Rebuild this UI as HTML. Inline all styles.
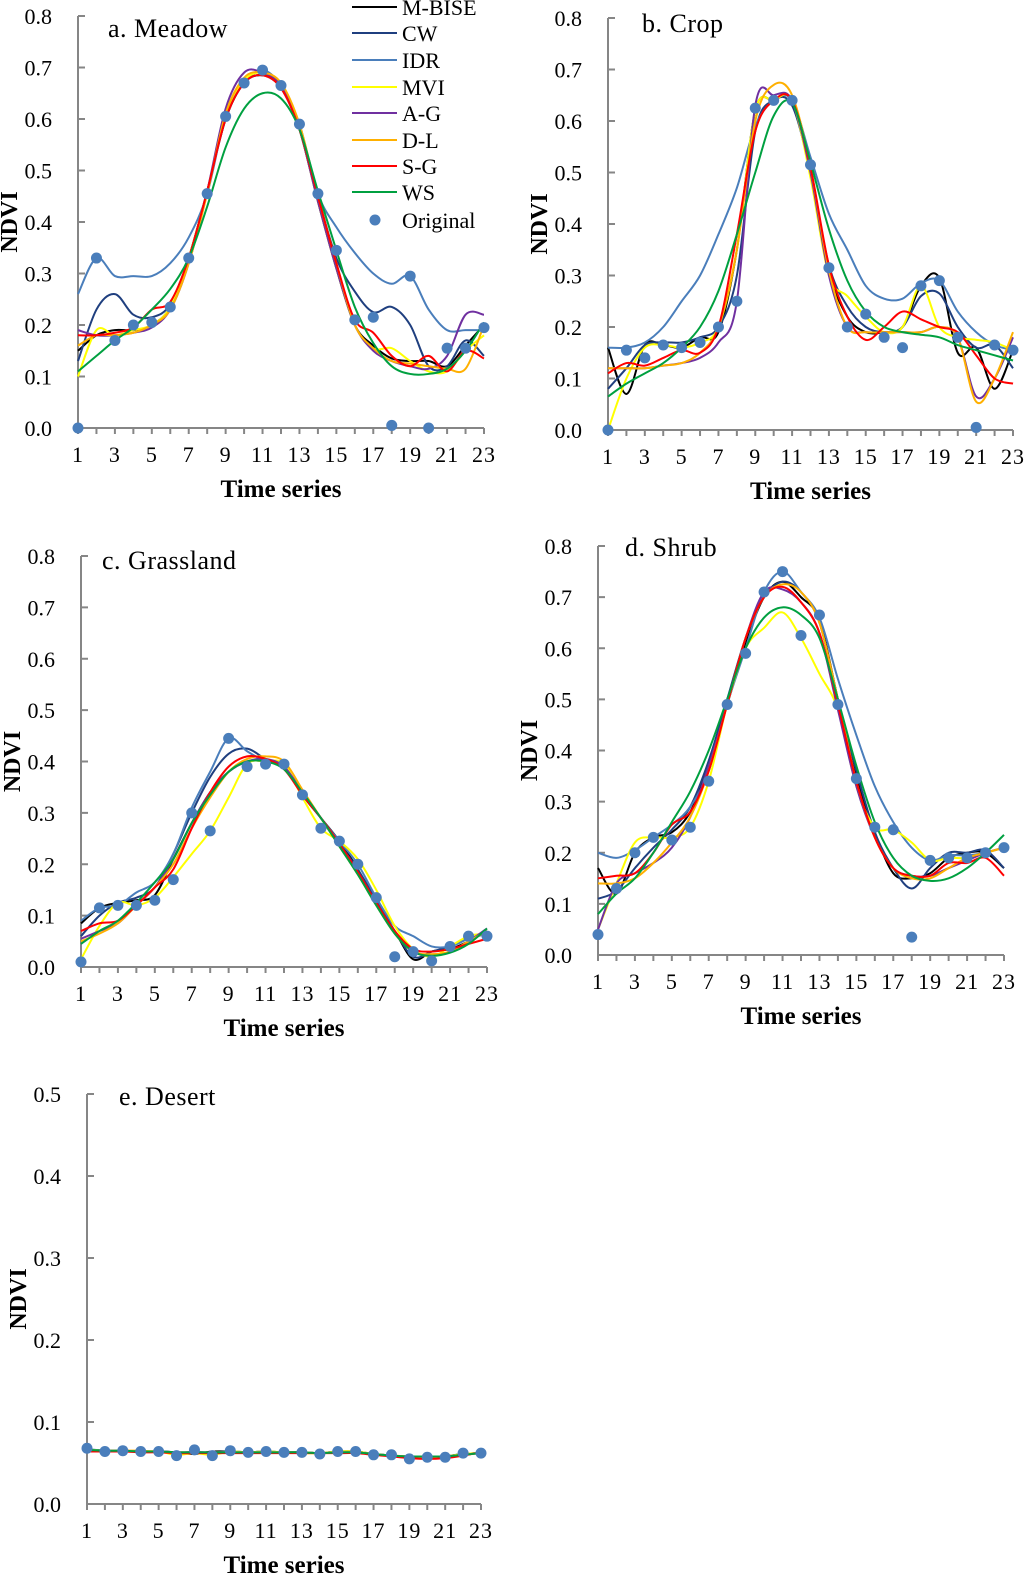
<!DOCTYPE html>
<html><head><meta charset="utf-8">
<style>
html,body{margin:0;padding:0;background:#fff;}
svg{display:block;font-family:"Liberation Serif",serif;}
</style></head>
<body>
<svg id="fig" width="1024" height="1578" viewBox="0 0 1024 1578"></svg>
<script>
const seriesNames = ["M-BISE","CW","IDR","MVI","A-G","D-L","S-G","WS"];
const seriesColors = ["#000000","#1f3f7f","#4a7ebb","#ffff00","#7030a0","#ffb000","#ff0000","#00a040"];
const timeSteps = [1,2,3,4,5,6,7,8,9,10,11,12,13,14,15,16,17,18,19,20,21,22,23];
const xTickLabels = [1,3,5,7,9,11,13,15,17,19,21,23];

// a. Meadow
const meadowOriginal = [0.0,0.33,0.17,0.20,0.205,0.235,0.33,0.455,0.605,0.67,0.695,0.665,0.59,0.455,0.345,0.21,0.215,0.005,0.295,0.0,0.155,0.155,0.195];
const meadowMBISE = [0.15,0.18,0.19,0.19,0.20,0.235,0.33,0.46,0.60,0.67,0.685,0.665,0.58,0.44,0.31,0.20,0.16,0.135,0.13,0.13,0.12,0.16,0.20];
const meadowCW = [0.13,0.23,0.26,0.22,0.215,0.24,0.33,0.46,0.60,0.67,0.685,0.66,0.58,0.45,0.33,0.265,0.225,0.235,0.20,0.12,0.12,0.17,0.14];
const meadowIDR = [0.26,0.33,0.295,0.295,0.295,0.32,0.37,0.455,0.605,0.67,0.695,0.665,0.59,0.455,0.39,0.34,0.30,0.28,0.295,0.23,0.19,0.19,0.19];
const meadowMVI = [0.10,0.19,0.18,0.19,0.20,0.235,0.33,0.46,0.61,0.675,0.69,0.665,0.58,0.44,0.31,0.20,0.155,0.155,0.13,0.11,0.11,0.15,0.18];
const meadowAG = [0.19,0.18,0.18,0.185,0.195,0.23,0.32,0.46,0.62,0.69,0.69,0.665,0.58,0.44,0.31,0.20,0.15,0.13,0.12,0.115,0.14,0.22,0.22];
const meadowDL = [0.16,0.18,0.18,0.185,0.20,0.23,0.32,0.455,0.61,0.68,0.69,0.67,0.59,0.45,0.32,0.20,0.155,0.13,0.125,0.12,0.115,0.115,0.20];
const meadowSG = [0.18,0.18,0.185,0.195,0.23,0.245,0.33,0.46,0.60,0.67,0.685,0.66,0.58,0.45,0.32,0.21,0.185,0.14,0.12,0.14,0.11,0.15,0.135];
const meadowWS = [0.11,0.14,0.17,0.195,0.23,0.27,0.33,0.43,0.545,0.62,0.65,0.64,0.58,0.46,0.345,0.235,0.165,0.12,0.105,0.105,0.115,0.15,0.205];

// b. Crop
const cropOriginal = [0.0,0.155,0.14,0.165,0.16,0.17,0.20,0.25,0.625,0.64,0.64,0.515,0.315,0.20,0.225,0.18,0.16,0.28,0.29,0.18,0.005,0.165,0.155];
const cropMBISE = [0.16,0.07,0.165,0.165,0.16,0.18,0.19,0.35,0.62,0.64,0.64,0.50,0.31,0.22,0.19,0.19,0.20,0.28,0.295,0.15,0.16,0.08,0.155];
const cropCW = [0.08,0.12,0.165,0.17,0.17,0.18,0.20,0.30,0.58,0.64,0.63,0.50,0.32,0.24,0.20,0.19,0.20,0.26,0.265,0.20,0.16,0.165,0.12];
const cropIDR = [0.16,0.16,0.17,0.20,0.25,0.30,0.38,0.47,0.59,0.64,0.64,0.53,0.42,0.35,0.28,0.255,0.255,0.285,0.29,0.23,0.19,0.165,0.155];
const cropMVI = [0.0,0.10,0.16,0.165,0.16,0.17,0.20,0.35,0.62,0.64,0.64,0.49,0.30,0.26,0.22,0.19,0.20,0.28,0.20,0.18,0.175,0.17,0.155];
const cropAG = [0.12,0.12,0.12,0.125,0.13,0.14,0.17,0.25,0.63,0.65,0.64,0.50,0.30,0.20,0.19,0.19,0.19,0.19,0.20,0.18,0.065,0.10,0.18];
const cropDL = [0.12,0.12,0.12,0.125,0.13,0.15,0.20,0.35,0.60,0.67,0.65,0.51,0.31,0.20,0.19,0.19,0.19,0.19,0.20,0.18,0.055,0.10,0.19];
const cropSG = [0.11,0.13,0.125,0.14,0.155,0.15,0.20,0.38,0.58,0.64,0.64,0.51,0.32,0.22,0.175,0.20,0.23,0.215,0.20,0.19,0.145,0.10,0.09];
const cropWS = [0.065,0.09,0.11,0.13,0.16,0.20,0.27,0.38,0.50,0.61,0.635,0.52,0.39,0.29,0.23,0.20,0.19,0.185,0.18,0.165,0.155,0.145,0.135];

// c. Grassland
const grassOriginal = [0.01,0.115,0.12,0.12,0.13,0.17,0.30,0.265,0.445,0.39,0.395,0.395,0.335,0.27,0.245,0.20,0.135,0.02,0.03,0.012,0.04,0.06,0.06];
const grassMBISE = [0.085,0.115,0.125,0.13,0.14,0.21,0.28,0.34,0.38,0.40,0.40,0.39,0.335,0.29,0.245,0.19,0.125,0.07,0.015,0.03,0.035,0.05,0.07];
const grassCW = [0.06,0.10,0.125,0.135,0.155,0.22,0.30,0.37,0.415,0.425,0.405,0.39,0.34,0.29,0.24,0.19,0.13,0.07,0.02,0.03,0.04,0.055,0.065];
const grassIDR = [0.09,0.115,0.12,0.145,0.165,0.22,0.31,0.38,0.445,0.42,0.40,0.39,0.34,0.29,0.245,0.20,0.135,0.08,0.06,0.04,0.04,0.055,0.065];
const grassMVI = [0.015,0.08,0.125,0.12,0.135,0.175,0.22,0.265,0.33,0.395,0.40,0.395,0.33,0.27,0.245,0.21,0.15,0.08,0.035,0.02,0.04,0.06,0.065];
const grassAG = [0.055,0.07,0.085,0.12,0.155,0.21,0.28,0.34,0.38,0.40,0.405,0.39,0.34,0.29,0.24,0.185,0.125,0.07,0.03,0.022,0.03,0.05,0.075];
const grassDL = [0.05,0.065,0.085,0.12,0.155,0.20,0.27,0.33,0.38,0.405,0.41,0.40,0.345,0.29,0.235,0.18,0.12,0.065,0.03,0.025,0.03,0.05,0.07];
const grassSG = [0.07,0.085,0.09,0.12,0.155,0.19,0.27,0.34,0.39,0.41,0.405,0.385,0.335,0.29,0.24,0.185,0.125,0.07,0.035,0.03,0.035,0.045,0.055];
const grassWS = [0.045,0.07,0.09,0.125,0.165,0.21,0.28,0.335,0.38,0.40,0.40,0.385,0.34,0.29,0.235,0.18,0.12,0.065,0.03,0.022,0.028,0.045,0.075];

// d. Shrub
const shrubOriginal = [0.04,0.13,0.20,0.23,0.225,0.25,0.34,0.49,0.59,0.71,0.75,0.625,0.665,0.49,0.345,0.25,0.245,0.035,0.185,0.19,0.19,0.20,0.21];
const shrubMBISE = [0.17,0.12,0.20,0.23,0.24,0.28,0.37,0.49,0.61,0.70,0.73,0.70,0.655,0.50,0.35,0.24,0.16,0.15,0.16,0.19,0.20,0.20,0.17];
const shrubCW = [0.11,0.125,0.17,0.21,0.245,0.29,0.38,0.50,0.62,0.70,0.73,0.71,0.65,0.50,0.36,0.24,0.17,0.13,0.17,0.20,0.20,0.205,0.17];
const shrubIDR = [0.20,0.19,0.205,0.23,0.255,0.29,0.36,0.49,0.60,0.71,0.75,0.71,0.66,0.54,0.43,0.33,0.26,0.21,0.185,0.195,0.195,0.20,0.21];
const shrubMVI = [0.05,0.14,0.22,0.23,0.23,0.25,0.34,0.49,0.60,0.64,0.67,0.62,0.55,0.48,0.33,0.25,0.245,0.22,0.185,0.19,0.19,0.20,0.21];
const shrubAG = [0.05,0.14,0.16,0.18,0.21,0.27,0.37,0.49,0.62,0.71,0.715,0.69,0.63,0.48,0.33,0.23,0.17,0.155,0.155,0.17,0.185,0.20,0.21];
const shrubDL = [0.14,0.14,0.15,0.18,0.22,0.27,0.36,0.49,0.62,0.70,0.725,0.71,0.65,0.50,0.34,0.23,0.17,0.15,0.15,0.17,0.19,0.20,0.21];
const shrubSG = [0.15,0.155,0.16,0.20,0.255,0.28,0.36,0.49,0.62,0.70,0.72,0.69,0.63,0.49,0.34,0.23,0.17,0.155,0.155,0.18,0.18,0.19,0.155];
const shrubWS = [0.08,0.12,0.15,0.20,0.26,0.32,0.40,0.50,0.60,0.66,0.68,0.665,0.62,0.50,0.37,0.26,0.19,0.155,0.145,0.15,0.17,0.20,0.235];

// e. Desert
const desertOriginal = [0.068,0.064,0.065,0.064,0.064,0.059,0.066,0.059,0.065,0.063,0.064,0.063,0.063,0.061,0.064,0.064,0.060,0.060,0.055,0.057,0.057,0.062,0.062];
const desertMBISE = [0.066,0.065,0.065,0.064,0.064,0.063,0.061,0.064,0.064,0.063,0.064,0.063,0.063,0.062,0.064,0.064,0.061,0.059,0.057,0.057,0.058,0.061,0.062];
const desertCW = [0.066,0.065,0.065,0.064,0.064,0.063,0.063,0.063,0.064,0.063,0.064,0.063,0.063,0.062,0.064,0.063,0.061,0.059,0.057,0.057,0.058,0.061,0.062];
const desertIDR = [0.067,0.065,0.065,0.064,0.064,0.062,0.064,0.062,0.064,0.063,0.064,0.063,0.063,0.062,0.064,0.063,0.061,0.059,0.057,0.057,0.058,0.061,0.062];
const desertMVI = [0.066,0.065,0.065,0.064,0.064,0.060,0.062,0.060,0.064,0.063,0.064,0.063,0.062,0.062,0.064,0.064,0.061,0.059,0.057,0.057,0.058,0.061,0.062];
const desertAG = [0.065,0.065,0.065,0.064,0.064,0.063,0.063,0.063,0.063,0.063,0.063,0.063,0.063,0.062,0.063,0.063,0.061,0.059,0.058,0.057,0.058,0.060,0.062];
const desertDL = [0.065,0.065,0.065,0.065,0.064,0.063,0.063,0.063,0.063,0.063,0.063,0.063,0.063,0.062,0.063,0.063,0.061,0.059,0.058,0.057,0.058,0.060,0.062];
const desertSG = [0.064,0.064,0.064,0.063,0.063,0.062,0.062,0.062,0.062,0.062,0.062,0.062,0.062,0.062,0.062,0.062,0.060,0.058,0.056,0.055,0.056,0.059,0.063];
const desertWS = [0.066,0.065,0.065,0.064,0.064,0.063,0.063,0.063,0.063,0.063,0.063,0.063,0.063,0.062,0.063,0.063,0.061,0.059,0.058,0.058,0.058,0.060,0.062];

const panels = [
  {key:"meadow", title:"a. Meadow", x0:78, x1:484, y0:428, yTop:16, ymax:0.8, ticks:[0,0.1,0.2,0.3,0.4,0.5,0.6,0.7,0.8], tx:108, ty:37,
   series:[meadowMBISE,meadowCW,meadowIDR,meadowMVI,meadowAG,meadowDL,meadowSG,meadowWS], orig:meadowOriginal},
  {key:"crop", title:"b. Crop", x0:608, x1:1013, y0:430, yTop:18, ymax:0.8, ticks:[0,0.1,0.2,0.3,0.4,0.5,0.6,0.7,0.8], tx:642, ty:32,
   series:[cropMBISE,cropCW,cropIDR,cropMVI,cropAG,cropDL,cropSG,cropWS], orig:cropOriginal},
  {key:"grassland", title:"c. Grassland", x0:81, x1:487, y0:967, yTop:556, ymax:0.8, ticks:[0,0.1,0.2,0.3,0.4,0.5,0.6,0.7,0.8], tx:102, ty:569,
   series:[grassMBISE,grassCW,grassIDR,grassMVI,grassAG,grassDL,grassSG,grassWS], orig:grassOriginal},
  {key:"shrub", title:"d. Shrub", x0:598, x1:1004, y0:955, yTop:546, ymax:0.8, ticks:[0,0.1,0.2,0.3,0.4,0.5,0.6,0.7,0.8], tx:625, ty:556,
   series:[shrubMBISE,shrubCW,shrubIDR,shrubMVI,shrubAG,shrubDL,shrubSG,shrubWS], orig:shrubOriginal},
  {key:"desert", title:"e. Desert", x0:87, x1:481, y0:1504, yTop:1094, ymax:0.5, ticks:[0,0.1,0.2,0.3,0.4,0.5], tx:119, ty:1105,
   series:[desertMBISE,desertCW,desertIDR,desertMVI,desertAG,desertDL,desertSG,desertWS], orig:desertOriginal}
];

const NS = "http://www.w3.org/2000/svg";
const svg = document.getElementById("fig");
function mk(tag, attrs, parent){
  const el = document.createElementNS(NS, tag);
  for (const k in attrs) el.setAttribute(k, attrs[k]);
  (parent||svg).appendChild(el);
  return el;
}
function smoothPath(pts){
  let d = "M" + pts[0][0].toFixed(2) + "," + pts[0][1].toFixed(2);
  for (let i=0;i<pts.length-1;i++){
    const p0 = pts[Math.max(0,i-1)], p1 = pts[i], p2 = pts[i+1], p3 = pts[Math.min(pts.length-1,i+2)];
    const c1x = p1[0]+(p2[0]-p0[0])/6, c1y = p1[1]+(p2[1]-p0[1])/6;
    const c2x = p2[0]-(p3[0]-p1[0])/6, c2y = p2[1]-(p3[1]-p1[1])/6;
    d += " C"+c1x.toFixed(2)+","+c1y.toFixed(2)+" "+c2x.toFixed(2)+","+c2y.toFixed(2)+" "+p2[0].toFixed(2)+","+p2[1].toFixed(2);
  }
  return d;
}

panels.forEach(p => {
  const g = mk("g", {});
  
  
  const xs = t => p.x0 + (t-1)*(p.x1-p.x0)/22;
  const ys = v => p.y0 - v/p.ymax*(p.y0-p.yTop);

  const ya = mk("line", {x1:p.x0, y1:p.yTop, x2:p.x0, y2:p.y0, stroke:"#868686", "stroke-width":2}, g);
  
  
  const xa = mk("line", {x1:p.x0, y1:p.y0, x2:p.x1, y2:p.y0, stroke:"#868686", "stroke-width":2}, g);
  
  
  p.ticks.forEach(v => {
    mk("line", {x1:p.x0, y1:ys(v), x2:p.x0+7, y2:ys(v), stroke:"#868686", "stroke-width":2}, g);
    const t = mk("text", {x:p.x0-26, y:ys(v)+8, "text-anchor":"end", "font-size":22, fill:"#000"}, g);
    t.textContent = v.toFixed(1);
    
    
  });
  timeSteps.forEach(tv => {
    mk("line", {x1:xs(tv), y1:p.y0, x2:xs(tv), y2:p.y0+6, stroke:"#868686", "stroke-width":2}, g);
  });
  xTickLabels.forEach(tv => {
    const t = mk("text", {x:xs(tv), y:p.y0+34, "text-anchor":"middle", "font-size":22, "letter-spacing":"1", fill:"#000"}, g);
    t.textContent = tv;
    
    
  });
  const xt = mk("text", {x:(p.x0+p.x1)/2, y:p.y0+69, "text-anchor":"middle", "font-size":25, "font-weight":"bold", fill:"#000"}, g);
  xt.textContent = "Time series";
  
  
  const cy = (p.y0+p.yTop)/2;
  const yx = p.x0-69;
  const yt = mk("text", {x:yx, y:cy, "text-anchor":"middle", "font-size":24, "font-weight":"bold", fill:"#000", transform:"rotate(-90 "+yx+" "+cy+") translate(0 8)"}, g);
  yt.textContent = "NDVI";
  
  
  const tt = mk("text", {x:p.tx, y:p.ty, "font-size":26, "letter-spacing":"0.5", fill:"#000"}, g);
  tt.textContent = p.title;
  
  

  p.series.forEach((vals, i) => {
    const pts = vals.map((v, j) => [xs(timeSteps[j]), ys(v)]);
    const path = mk("path", {d:smoothPath(pts), fill:"none", stroke:seriesColors[i], "stroke-width":2}, g);
    
    
  });
  p.orig.forEach((v, j) => {
    const c = mk("circle", {cx:xs(timeSteps[j]), cy:ys(v), r:5.5, fill:"#4a7ebb"}, g);
    
    
  });
});

const lg = mk("g", {});


const legendY = [7,33,60,87,113,140,166,192];
seriesNames.forEach((n, i) => {
  const e = mk("g", {}, lg);
  
  
  mk("line", {x1:352, y1:legendY[i], x2:397, y2:legendY[i], stroke:seriesColors[i], "stroke-width":2}, e);
  const t = mk("text", {x:402, y:legendY[i]+8, "font-size":22, fill:"#000"}, e);
  t.textContent = n;
});
const oe = mk("g", {}, lg);


mk("circle", {cx:375, cy:220, r:5.5, fill:"#4a7ebb"}, oe);
const ot = mk("text", {x:402, y:228, "font-size":22, fill:"#000"}, oe);
ot.textContent = "Original";
</script>
</body></html>
